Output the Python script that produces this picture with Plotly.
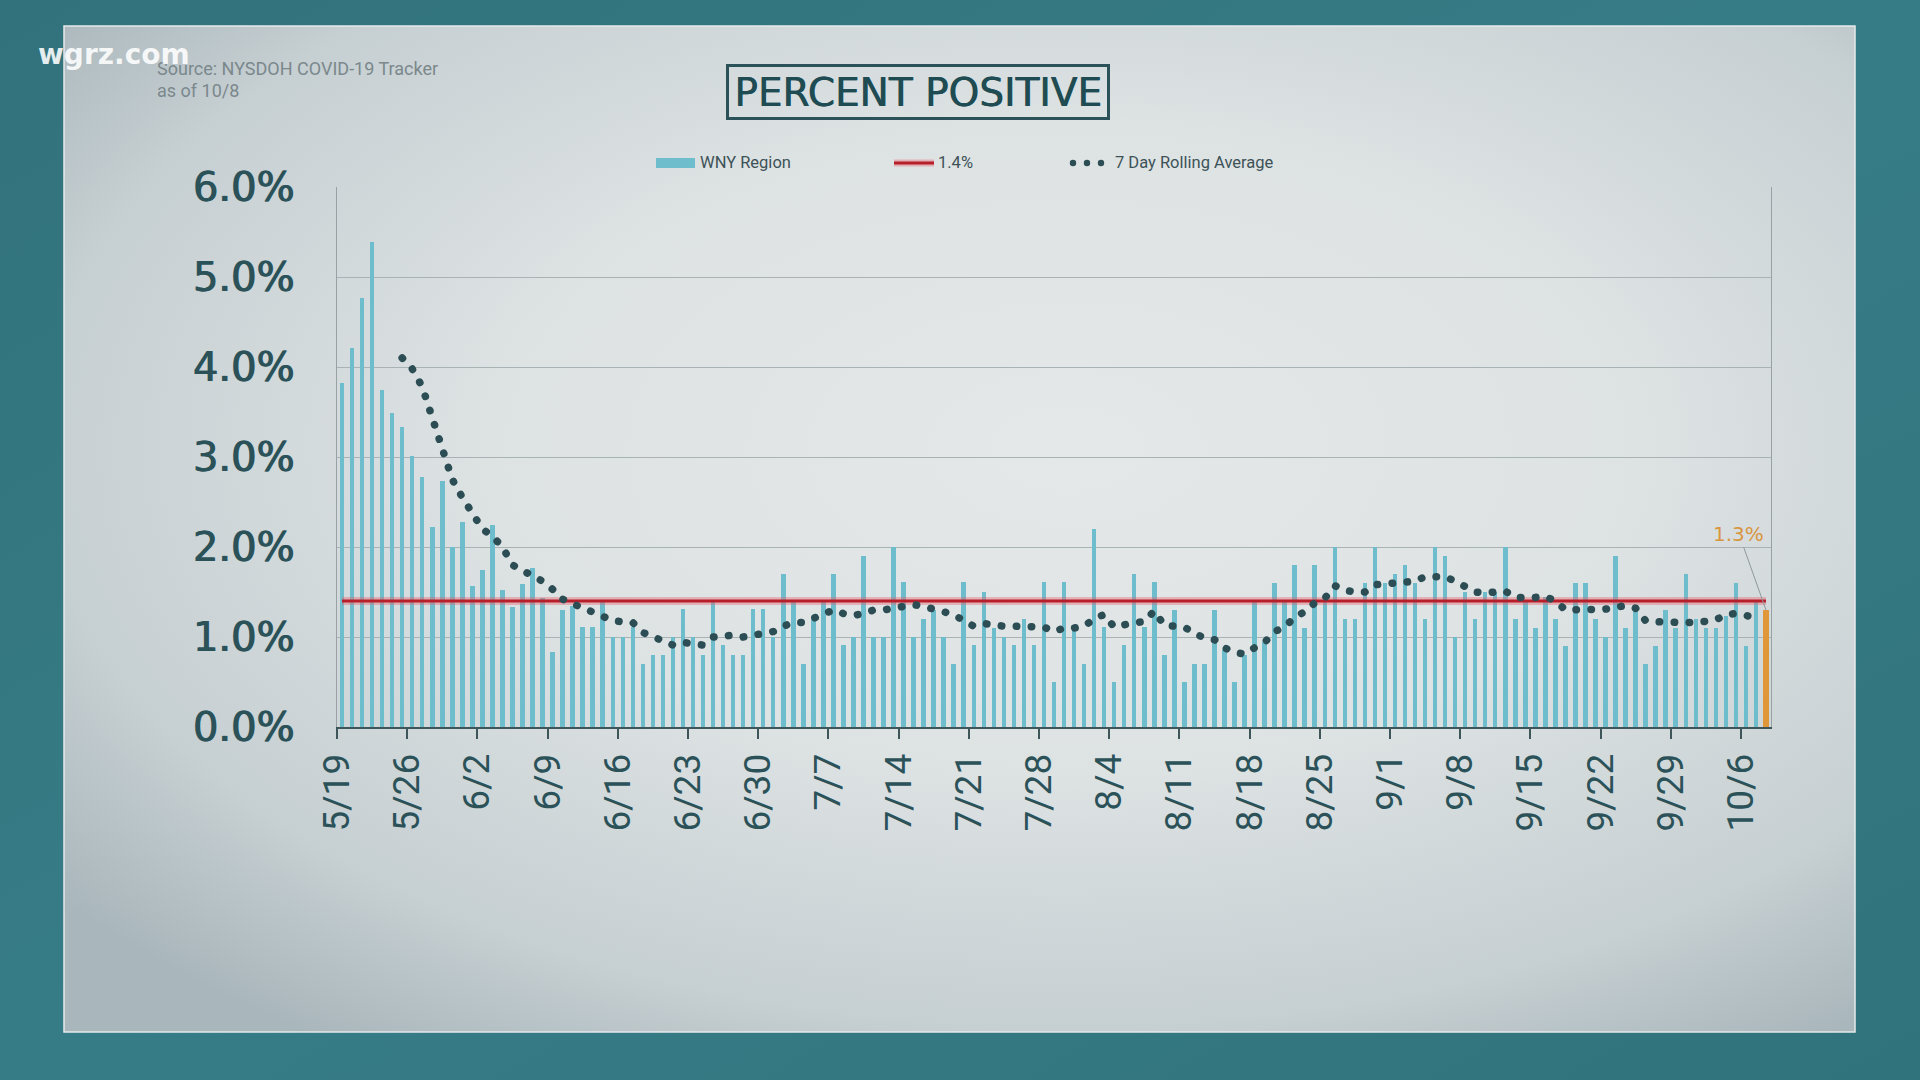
import base64
import pandas as pd
import plotly.graph_objects as go

# ---------------- data ----------------
START_DATE = "2020-05-19"
# daily percent positive, WNY region, 5/19 .. 10/8
WNY_REGION = [
    3.82, 4.21, 4.77, 5.39, 3.74, 3.49, 3.33, 3.01, 2.78, 2.22, 2.73, 2.00, 2.28,          # May 19-31
    1.57, 1.74, 2.25, 1.52, 1.33, 1.59, 1.77, 1.43, 0.83, 1.30, 1.34, 1.11, 1.11, 1.39,    # Jun 1-14
    1.00, 1.00, 1.11, 0.70, 0.80, 0.80, 1.00, 1.31, 1.00, 0.80, 1.39, 0.91, 0.80, 0.80,    # Jun 15-28
    1.31, 1.31,                                                                            # Jun 29-30
    1.00, 1.70, 1.39, 0.70, 1.20, 1.39, 1.70, 0.91, 1.00, 1.90, 1.00, 1.00, 2.00, 1.61,    # Jul 1-14
    1.00, 1.20, 1.30, 1.00, 0.70, 1.61, 0.91, 1.50, 1.10, 1.00, 0.91, 1.20, 0.91, 1.61,    # Jul 15-28
    0.50, 1.61, 1.10,                                                                      # Jul 29-31
    0.70, 2.20, 1.11, 0.50, 0.91, 1.70, 1.11, 1.61, 0.80, 1.30, 0.50, 0.70, 0.70, 1.30,    # Aug 1-14
    0.86, 0.50, 0.80, 1.39, 0.95, 1.60, 1.39, 1.80, 1.10, 1.80, 1.43, 2.00, 1.20, 1.20,    # Aug 15-28
    1.60, 2.00, 1.60,                                                                      # Aug 29-31
    1.70, 1.80, 1.60, 1.20, 2.00, 1.90, 1.00, 1.50, 1.20, 1.50, 1.50, 2.00, 1.20, 1.40,    # Sep 1-14
    1.10, 1.45, 1.20, 0.90, 1.60, 1.60, 1.20, 1.00, 1.90, 1.10, 1.30, 0.70, 0.90, 1.30,    # Sep 15-28
    1.10, 1.70,                                                                            # Sep 29-30
    1.20, 1.10, 1.10, 1.23, 1.60, 0.90, 1.40, 1.30,                                        # Oct 1-8
]

ROLLING_START = "2020-05-25"
# 7 day rolling average, 5/25 .. 10/7
ROLLING_AVG = [
    4.10, 3.98, 3.78, 3.42, 3.08, 2.75, 2.55,                                              # May 25-31
    2.38, 2.20, 2.12, 2.00, 1.80, 1.74, 1.69, 1.62, 1.53, 1.42, 1.37, 1.33, 1.27, 1.23,    # Jun 1-14
    1.18, 1.16, 1.16, 1.05, 1.01, 0.95, 0.91, 0.94, 0.93, 0.91, 1.00, 1.02, 1.02, 1.00,    # Jun 15-28
    1.02, 1.04,                                                                            # Jun 29-30
    1.06, 1.12, 1.16, 1.16, 1.21, 1.26, 1.30, 1.26, 1.24, 1.26, 1.30, 1.30, 1.32, 1.34,    # Jul 1-14
    1.36, 1.34, 1.31, 1.29, 1.25, 1.18, 1.12, 1.15, 1.13, 1.12, 1.12, 1.11, 1.11, 1.11,    # Jul 15-28
    1.06, 1.10, 1.10,                                                                      # Jul 29-31
    1.12, 1.20, 1.25, 1.11, 1.14, 1.16, 1.17, 1.29, 1.13, 1.12, 1.11, 1.04, 0.99, 0.97,    # Aug 1-14
    0.88, 0.83, 0.81, 0.88, 0.94, 1.06, 1.11, 1.22, 1.28, 1.38, 1.43, 1.57, 1.52, 1.50,    # Aug 15-28
    1.50, 1.58, 1.59,                                                                      # Aug 29-31
    1.59, 1.59, 1.62, 1.67, 1.68, 1.67, 1.62, 1.56, 1.50, 1.49, 1.50, 1.51, 1.44, 1.43,    # Sep 1-14
    1.44, 1.45, 1.40, 1.30, 1.30, 1.32, 1.30, 1.31, 1.33, 1.35, 1.32, 1.18, 1.17, 1.16,    # Sep 15-28
    1.16, 1.16,                                                                            # Sep 29-30
    1.16, 1.17, 1.19, 1.25, 1.26, 1.24, 1.21,                                              # Oct 1-7
]

THRESHOLD = 1.4
X_TICK_LABELS = ["5/19", "5/26", "6/2", "6/9", "6/16", "6/23", "6/30", "7/7", "7/14", "7/21",
                 "7/28", "8/4", "8/11", "8/18", "8/25", "9/1", "9/8", "9/15", "9/22", "9/29", "10/6"]
Y_TICK_VALUES = [0, 1, 2, 3, 4, 5, 6]
Y_TICK_LABELS = ["0.0%", "1.0%", "2.0%", "3.0%", "4.0%", "5.0%", "6.0%"]

TITLE = "PERCENT POSITIVE"
SOURCE_LINES = ["Source: NYSDOH COVID-19 Tracker", "as of 10/8"]
LEGEND_LABELS = ["WNY Region", "1.4%", "7 Day Rolling Average"]

# ---------------- derived ----------------
dates = pd.date_range(START_DATE, periods=len(WNY_REGION), freq="D")
roll_dates = pd.date_range(ROLLING_START, periods=len(ROLLING_AVG), freq="D")
tick_dates = pd.date_range(START_DATE, periods=len(X_TICK_LABELS), freq="7D")
DAY_MS = 86400000

# ---------------- style ----------------
W, H = 1920, 1080
L, R, T, B = 337, 149, 187, 353
PW, PH = W - L - R, H - T - B

def px(x):
    return (x - L) / PW

def py(y):
    return 1 - (y - T) / PH

BAR = "#6dbdcc"
ORANGE = "#e0973a"
RED = "#b71f2b"
DOT = "#2c4d54"
TEAL_TXT = "#2b5259"

svg = f"""<svg xmlns='http://www.w3.org/2000/svg' width='{W}' height='{H}' viewBox='0 0 {W} {H}' preserveAspectRatio='none'>
<defs>
<radialGradient id='g' cx='0.56' cy='0.42' r='0.72'>
<stop offset='0' stop-color='#e5e8e9'/>
<stop offset='0.45' stop-color='#dde2e3'/>
<stop offset='0.8' stop-color='#c6cfd2'/>
<stop offset='1' stop-color='#a9b6bb'/>
</radialGradient>
<linearGradient id='f' x1='0' y1='0' x2='1' y2='1'>
<stop offset='0' stop-color='#32727c'/>
<stop offset='0.5' stop-color='#367c86'/>
<stop offset='1' stop-color='#31737d'/>
</linearGradient>
</defs>
<rect width='{W}' height='{H}' fill='url(#f)'/>
<rect x='64' y='26' width='1791' height='1006' fill='url(#g)' stroke='#e6eaeb' stroke-width='1.5'/>
</svg>"""
bg_src = "data:image/svg+xml;base64," + base64.b64encode(svg.encode()).decode()

colors = [BAR] * (len(WNY_REGION) - 1) + [ORANGE]
widths = [0.45 * DAY_MS] * (len(WNY_REGION) - 1) + [0.62 * DAY_MS]

fig = go.Figure()
fig.add_trace(go.Bar(
    x=dates, y=WNY_REGION, xperiod=DAY_MS, xperiodalignment="middle",
    marker=dict(color=colors, line=dict(width=0)), width=widths,
    showlegend=False, hoverinfo="skip"))
fig.add_trace(go.Scatter(
    x=dates, y=[THRESHOLD] * len(dates), xperiod=DAY_MS, xperiodalignment="middle",
    mode="lines", line=dict(color="rgba(232,95,108,0.38)", width=8),
    showlegend=False, hoverinfo="skip"))
fig.add_trace(go.Scatter(
    x=dates, y=[THRESHOLD] * len(dates), xperiod=DAY_MS, xperiodalignment="middle",
    mode="lines", line=dict(color=RED, width=3),
    showlegend=False, hoverinfo="skip"))
fig.add_trace(go.Scatter(
    x=roll_dates, y=ROLLING_AVG, xperiod=DAY_MS, xperiodalignment="middle",
    mode="lines", line=dict(color=DOT, width=7.5, dash="0.5px,14.5px"),
    showlegend=False, hoverinfo="skip"))

annotations = []
shapes = []

# title box
annotations.append(dict(
    text=TITLE, xref="paper", yref="paper", x=px(918), y=py(92),
    xanchor="center", yanchor="middle", showarrow=False,
    font=dict(family="DejaVu Sans", size=39, color="#1f4b53", shadow="0.7px 0 0 #1f4b53"),
    bordercolor="#2b5259", borderwidth=3, borderpad=0, width=378, height=50))

# source
for i, line in enumerate(SOURCE_LINES):
    annotations.append(dict(
        text=line, xref="paper", yref="paper", x=px(155), y=py(69 + 22 * i),
        xanchor="left", yanchor="middle", showarrow=False,
        font=dict(family="Roboto", size=18, color="#7b888c")))

# watermark
annotations.append(dict(
    text="wgrz.com", xref="paper", yref="paper", x=px(36), y=py(54),
    xanchor="left", yanchor="middle", showarrow=False,
    font=dict(family="DejaVu Sans", size=28, color="rgba(255,255,255,0.88)", weight=700)))

# legend
LEG_Y = 163
shapes.append(dict(type="rect", xref="paper", yref="paper",
                   x0=px(656), x1=px(695), y0=py(168), y1=py(158),
                   fillcolor=BAR, line=dict(width=0)))
shapes.append(dict(type="line", xref="paper", yref="paper",
                   x0=px(894), x1=px(934), y0=py(LEG_Y), y1=py(LEG_Y),
                   line=dict(color="rgba(232,95,108,0.38)", width=7)))
shapes.append(dict(type="line", xref="paper", yref="paper",
                   x0=px(894), x1=px(934), y0=py(LEG_Y), y1=py(LEG_Y),
                   line=dict(color=RED, width=3)))
for cx in (1073, 1087, 1101):
    shapes.append(dict(type="circle", xref="paper", yref="paper",
                       x0=px(cx - 3.2), x1=px(cx + 3.2), y0=py(LEG_Y + 3.2), y1=py(LEG_Y - 3.2),
                       fillcolor=DOT, line=dict(width=0)))
for xl, label in zip((698, 936, 1113), LEGEND_LABELS):
    annotations.append(dict(
        text=label, xref="paper", yref="paper", x=px(xl), y=py(LEG_Y),
        xanchor="left", yanchor="middle", showarrow=False,
        font=dict(family="Roboto", size=16.5, color="#3d5257")))

# latest value callout
annotations.append(dict(
    text=f"{WNY_REGION[-1]:.1f}%", x=dates[-1] + pd.Timedelta(hours=12), y=WNY_REGION[-1],
    xref="x", yref="y", showarrow=True, arrowhead=0, arrowwidth=1,
    arrowcolor="#8f999c", ax=-27, ay=-76, standoff=0,
    font=dict(family="DejaVu Sans", size=20, color="#d9963f")))

fig.update_layout(
    width=W, height=H, autosize=False,
    margin=dict(l=L, r=R, t=T, b=B, pad=0),
    paper_bgcolor="#35767f", plot_bgcolor="rgba(0,0,0,0)",
    barmode="overlay", bargap=0,
    images=[dict(source=bg_src, xref="paper", yref="paper",
                 x=-L / PW, y=1 + T / PH, sizex=W / PW, sizey=H / PH,
                 xanchor="left", yanchor="top", sizing="stretch", layer="below")],
    annotations=annotations, shapes=shapes,
    xaxis=dict(
        type="date", range=[dates[0], dates[-1] + pd.Timedelta(days=1)],
        tickvals=tick_dates, ticktext=X_TICK_LABELS, tickangle=-90,
        tickfont=dict(family="Roboto", size=37, color=TEAL_TXT),
        ticks="outside", ticklen=10, tickwidth=1.5, tickcolor="#3e555a",
        ticklabelstandoff=0,
        showline=True, linecolor="#3e555a", linewidth=2,
        showgrid=False, zeroline=False),
    yaxis=dict(
        range=[0, 6], tickvals=Y_TICK_VALUES, ticktext=Y_TICK_LABELS,
        tickfont=dict(family="DejaVu Sans", size=40, color=TEAL_TXT,
                      shadow="1.2px 0 0 #2b5259"),
        ticks="", ticklabelstandoff=34,
        showgrid=True, gridcolor="#a9b2b5", gridwidth=1,
        showline=True, linecolor="#98a2a5", linewidth=1, mirror=True,
        zeroline=False),
)

post = ("document.body.style.margin='0';"
        "var st=document.createElement('style');"
        "st.textContent='.scatterlayer .trace:last-child path.js-line{stroke-linecap:round !important;}';"
        "document.head.appendChild(st);")

fig.write_html("out.html", post_script=post, config={"displayModeBar": False})
